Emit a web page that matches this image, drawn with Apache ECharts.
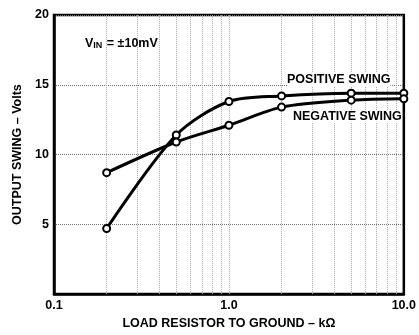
<!DOCTYPE html>
<html>
<head>
<meta charset="utf-8">
<script src="https://cdn.jsdelivr.net/npm/echarts@6/dist/echarts.min.js"></script>
<style>
  html, body { margin: 0; padding: 0; background: #fff; }
  #chart { width: 419px; height: 335px; }
</style>
</head>
<body>
<div id="chart"></div>
<script>
// Load resistance in kΩ
const loadResistance = [0.2, 0.5, 1.0, 2.0, 5.0, 10.0];
// Output swing in volts
const positiveSwing = [4.7, 11.4, 13.8, 14.2, 14.4, 14.4];
const negativeSwing = [8.7, 10.9, 12.1, 13.4, 13.9, 14.0];
// Tick labels
const xTickLabels = ['0.1', '1.0', '10.0'];
const yTickLabels = ['5', '10', '15', '20'];
// Log-decade grid positions
const xGridValues = [0.2, 0.3, 0.4, 0.5, 0.6, 0.7, 0.8, 0.9, 1, 2, 3, 4, 5, 6, 7, 8, 9];

const FONT = 'Liberation Sans, Arial, sans-serif';
const FS = 12.5;

function pairs(xs, ys) {
  return xs.map((x, i) => [x, ys[i]]);
}

const chart = echarts.init(document.getElementById('chart'), null, { renderer: 'canvas' });

const curveStyle = {
  type: 'line',
  smooth: 0.3,
  symbol: 'circle',
  symbolSize: 7,
  showSymbol: true,
  lineStyle: { color: '#000', width: 3 },
  itemStyle: { color: '#fff', borderColor: '#000', borderWidth: 2 },
  z: 5
};

chart.setOption({
  animation: false,
  backgroundColor: '#fff',
  grid: {
    left: 54, right: 10, top: 15, bottom: 38,
    show: true, borderColor: '#000', borderWidth: 2.5
  },
  xAxis: {
    type: 'log',
    logBase: 10,
    min: 0.1,
    max: 10,
    name: 'LOAD RESISTOR TO GROUND – kΩ',
    nameLocation: 'middle',
    nameGap: 22,
    nameTextStyle: { fontFamily: FONT, fontWeight: 'bold', fontSize: FS, color: '#000' },
    axisLine: { show: true, lineStyle: { color: '#000', width: 2.5 } },
    axisTick: { show: false },
    splitLine: { show: false },
    axisLabel: {
      margin: 5,
      fontFamily: FONT, fontWeight: 'bold', fontSize: FS, color: '#000',
      formatter: function (v) {
        const idx = Math.round(Math.log10(v)) + 1;
        return xTickLabels[idx] !== undefined ? xTickLabels[idx] : '';
      }
    }
  },
  yAxis: {
    type: 'value',
    min: 0,
    max: 20,
    interval: 5,
    name: 'OUTPUT SWING – Volts',
    nameLocation: 'middle',
    nameGap: 30,
    nameTextStyle: { fontFamily: FONT, fontWeight: 'bold', fontSize: FS, color: '#000' },
    axisLine: { show: true, lineStyle: { color: '#000', width: 2.5 } },
    axisTick: { show: false },
    splitLine: { show: true, lineStyle: { color: '#777', type: 'dotted', width: 1 } },
    axisLabel: {
      margin: 5,
      fontFamily: FONT, fontWeight: 'bold', fontSize: FS, color: '#000',
      formatter: function (v) {
        const s = String(v);
        return yTickLabels.indexOf(s) >= 0 ? s : '';
      }
    }
  },
  series: [
    {
      // vertical grid lines at each log-decade multiple
      type: 'line',
      data: [],
      silent: true,
      markLine: {
        silent: true,
        symbol: ['none', 'none'],
        label: { show: false },
        lineStyle: { color: '#aaa', type: 'dotted', width: 1 },
        data: xGridValues.map(v => ({ xAxis: v }))
      },
      z: 1
    },
    Object.assign({ name: 'POSITIVE SWING', data: pairs(loadResistance, positiveSwing) }, curveStyle),
    Object.assign({ name: 'NEGATIVE SWING', data: pairs(loadResistance, negativeSwing) }, curveStyle)
  ],
  graphic: [
    {
      type: 'text',
      left: 85, top: 37,
      style: {
        text: '{v|V}{s|IN}{v| = ±10mV}',
        rich: {
          v: { fontFamily: FONT, fontWeight: 'bold', fontSize: FS, fill: '#000' },
          s: { fontFamily: FONT, fontWeight: 'bold', fontSize: 9, fill: '#000', padding: [5, 1, 0, 0] }
        }
      },
      z: 10
    },
    {
      type: 'text',
      left: 287, top: 73,
      style: { text: 'POSITIVE SWING', fontFamily: FONT, fontWeight: 'bold', fontSize: FS, fill: '#000', backgroundColor: '#fff' },
      z: 10
    },
    {
      type: 'text',
      left: 293, top: 110,
      style: { text: 'NEGATIVE SWING', fontFamily: FONT, fontWeight: 'bold', fontSize: FS, fill: '#000', backgroundColor: '#fff' },
      z: 10
    }
  ]
});
</script>
</body>
</html>
